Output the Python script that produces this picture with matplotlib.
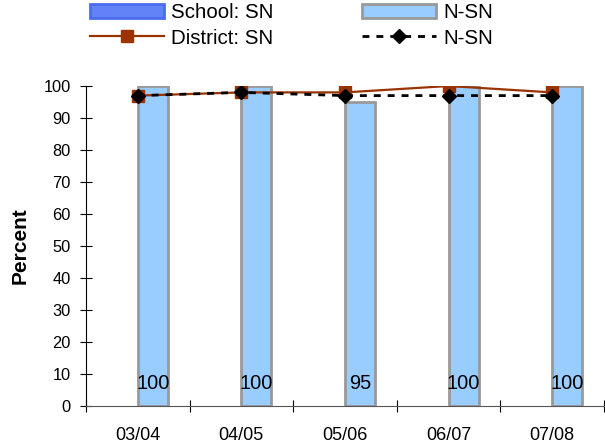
import numpy as np
import matplotlib
matplotlib.use("Agg")
import matplotlib.pyplot as plt

plt.rcParams['font.family'] = ['Liberation Sans', 'DejaVu Sans']

# ---------------------data----------------------------------------------------
years = ['03/04', '04/05', '05/06', '06/07', '07/08']
school_sn = [np.nan, np.nan, np.nan, np.nan, np.nan]   # no school SN bars shown
school_nsn = [100, 100, 95, 100, 100]
district_sn = [97, 98, 98, 100, 98]
district_nsn = [97, 98, 97, 97, 97]

x = np.arange(len(years))
w = 0.29

fig = plt.figure(figsize=(6.05, 4.47), dpi=100)
ax = fig.add_axes([0.1421, 0.0917, 0.8562, 0.7159])

b1 = ax.bar(x - w, school_sn, w, align='edge', color='#6283F7',
            edgecolor='#4A6CF0', linewidth=2, label='School: SN')
b2 = ax.bar(x, school_nsn, w, align='edge', color='#99CCFF',
            edgecolor='#999999', linewidth=2, label='N-SN')
l1, = ax.plot(x, district_sn, color='#993300', lw=1.6, marker='s',
              markersize=8, label='District: SN', zorder=3)
l2, = ax.plot(x, district_nsn, color='black', lw=2, ls=(0, (2.5, 2.5)),
              marker='D', markersize=7, label='N-SN', zorder=4)

# value labels near the bottom of the bars
for i, v in enumerate(school_nsn):
    ax.text(x[i] + w / 2, 7, str(v), ha='center', va='center', fontsize=14.4)

ax.set_xlim(-0.5, 4.5)
ax.set_ylim(0, 100)
ax.set_yticks(np.arange(0, 101, 10))
ax.set_xticks(x)
ax.set_xticklabels(years)
ax.set_xticks(np.arange(-0.5, 4.6, 1), minor=True)
ax.tick_params(axis='x', which='major', length=0, pad=15, labelsize=13)
ax.tick_params(axis='x', which='minor', length=8.6, direction='inout', width=0.8)
ax.tick_params(axis='y', length=8.6, direction='inout', width=0.8,
               pad=6.5, labelsize=11.8)
for s in ['top', 'right']:
    ax.spines[s].set_visible(False)
for s in ['left', 'bottom']:
    ax.spines[s].set_linewidth(0.8)
ax.spines['bottom'].set_color('#555555')
ax.set_ylabel('Percent', fontsize=15, fontweight='bold', labelpad=10)

fig.legend([b1, l1, b2, l2], ['School: SN', 'District: SN', 'N-SN', 'N-SN'],
           ncol=2, loc='upper left', bbox_to_anchor=(0.145, 0.997),
           frameon=False, fontsize=14.8, handlelength=3.6, handletextpad=0.35,
           columnspacing=4.3, labelspacing=0.3, borderpad=0.1,
           borderaxespad=0)

fig.savefig('out.png', dpi=100)
